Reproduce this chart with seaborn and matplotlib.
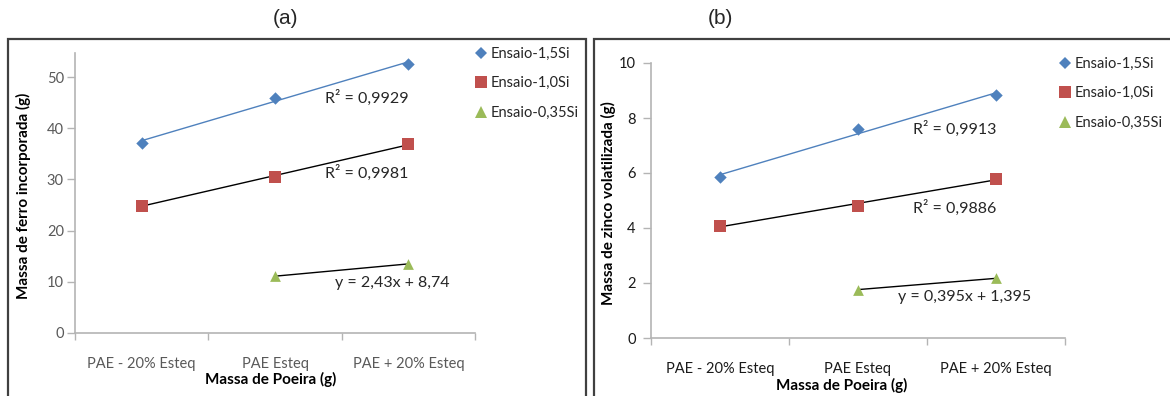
import matplotlib
matplotlib.use("Agg")
import matplotlib.pyplot as plt
from matplotlib.lines import Line2D
from matplotlib.patches import Rectangle
from matplotlib.ticker import FixedLocator
import seaborn as sns
import numpy as np

# ---------------------------------------------------------------------------- #
#                                     Data                                     #
# ---------------------------------------------------------------------------- #
categories = ["PAE - 20% Esteq", "PAE Esteq", "PAE + 20% Esteq"]
series_names = ["Ensaio-1,5Si", "Ensaio-1,0Si", "Ensaio-0,35Si"]

# (a) Massa de ferro incorporada (g)
ferro_15 = [37.2, 46.0, 52.6]
ferro_10 = [24.9, 30.5, 36.9]
ferro_035 = [np.nan, 11.1, 13.5]
ferro_notes = ["R\u00b2 = 0,9929", "R\u00b2 = 0,9981", "y = 2,43x + 8,74"]

# (b) Massa de zinco volatilizada (g)
zinco_15 = [5.85, 7.6, 8.83]
zinco_10 = [4.09, 4.8, 5.8]
zinco_035 = [np.nan, 1.76, 2.17]
zinco_notes = ["R\u00b2 = 0,9913", "R\u00b2 = 0,9886", "y = 0,395x + 1,395"]

# ---------------------------------------------------------------------------- #
#                                     Style                                    #
# ---------------------------------------------------------------------------- #
sns.set_theme(style="white")
plt.rcParams["font.family"] = ["Lato", "DejaVu Sans"]

colors = ["#4F81BD", "#C0504D", "#9BBB59"]
markers = ["D", "s", "^"]
sizes = [40, 70, 60]
trend_colors = ["#4F81BD", "black", "black"]
axis_gray = "#B4B4B4"

W, H = 1170, 396
fig = plt.figure(figsize=(W / 100, H / 100), dpi=100)


def px_box(x0, y0, x1, y1):
    """Convert pixel box (top-left origin) to figure fraction rect."""
    return [x0 / W, 1 - y1 / H, (x1 - x0) / W, (y1 - y0) / H]


def draw_panel(ax, data, notes, note_pos, ylim, yticks, ylabel, tick_color,
               ylab_x, xlab_pos, legend_anchor, ytick_pad):
    x = np.arange(len(categories))
    for vals, c, m, s, tc in zip(data, colors, markers, sizes, trend_colors):
        vals = np.asarray(vals, dtype=float)
        ok = ~np.isnan(vals)
        # linear trend line (Excel style)
        sns.regplot(x=x[ok], y=vals[ok], scatter=False, ci=None, truncate=True,
                    ax=ax, line_kws=dict(color=tc, lw=1.0))
        sns.scatterplot(x=x[ok], y=vals[ok], marker=m, s=s, color=c,
                        linewidth=0, ax=ax, zorder=3)

    for txt, (nx, ny) in zip(notes, note_pos):
        ax.text(nx, ny, txt, fontsize=11.5, color="#262626", ha="left",
                va="center")

    ax.set_xlim(-0.5, len(categories) - 0.5)
    ax.set_ylim(*ylim)
    ax.set_yticks(yticks)
    ax.set_xticks(x)
    ax.set_xticklabels(categories)
    ax.xaxis.set_minor_locator(FixedLocator(np.arange(-0.5, len(categories), 1.0)))
    ax.tick_params(axis="x", which="major", length=0, pad=17, labelsize=10.5,
                   colors=tick_color)
    ax.tick_params(axis="x", which="minor", length=5, width=1, color=axis_gray,
                   direction="out", bottom=True)
    ax.tick_params(axis="y", length=6, width=1, color=axis_gray, direction="out",
                   left=True, pad=ytick_pad, labelsize=10.5, labelcolor=tick_color)

    for side in ["top", "right"]:
        ax.spines[side].set_visible(False)
    for side in ["left", "bottom"]:
        ax.spines[side].set_color(axis_gray)
        ax.spines[side].set_linewidth(1.2)
    ax.set_facecolor("none")
    ax.grid(False)

    ax.set_ylabel(ylabel, fontsize=11, fontweight="bold", color="black")
    ax.yaxis.set_label_coords(ylab_x, 0.49)
    ax.set_xlabel("Massa de Poeira (g)", fontsize=11, fontweight="bold",
                  color="black")
    ax.xaxis.set_label_coords(*xlab_pos)

    handles = [Line2D([], [], marker=m, color=c, linestyle="none",
                      markersize=ms, markeredgewidth=0)
               for m, c, ms in zip(markers, colors, [6.5, 8.5, 8])]
    ax.legend(handles, series_names, loc="upper left",
              bbox_to_anchor=legend_anchor, bbox_transform=fig.transFigure,
              frameon=False, fontsize=10.5, handlelength=0.7, handletextpad=0.3,
              labelspacing=1.05, borderaxespad=0, borderpad=0)


# Panel frames
for x0, x1 in [(8, 586), (594, 1175)]:
    fig.patches.append(Rectangle((x0 / W, -0.05), (x1 - x0) / W, 1.05 - 39 / H,
                                 transform=fig.transFigure, fill=False,
                                 edgecolor="#404040", lw=1.6))

fig.text(285 / W, 1 - 18 / H, "(a)", ha="center", va="center", fontsize=15,
         family=["Liberation Sans", "DejaVu Sans"])
fig.text(720 / W, 1 - 18 / H, "(b)", ha="center", va="center", fontsize=15,
         family=["Liberation Sans", "DejaVu Sans"])

ax_a = fig.add_axes(px_box(75, 53, 475, 333))
draw_panel(ax_a, [ferro_15, ferro_10, ferro_035], ferro_notes,
           [(1.375, 45.9), (1.375, 31.3), (1.45, 9.8)],
           (0, 54.7), [0, 10, 20, 30, 40, 50],
           "Massa de ferro incorporada (g)", "#595959",
           -0.11, (0.49, -0.14), (476 / W, 1 - 47 / H), 2)

ax_b = fig.add_axes(px_box(651, 63, 1065, 338))
draw_panel(ax_b, [zinco_15, zinco_10, zinco_035], zinco_notes,
           [(1.40, 7.6), (1.40, 4.73), (1.29, 1.49)],
           (0, 10), [0, 2, 4, 6, 8, 10],
           "Massa de zinco volatilizada (g)", "#1A1A1A",
           -0.085, (0.46, -0.145), (1060 / W, 1 - 57 / H), 5)

fig.savefig("out.png", dpi=100)
